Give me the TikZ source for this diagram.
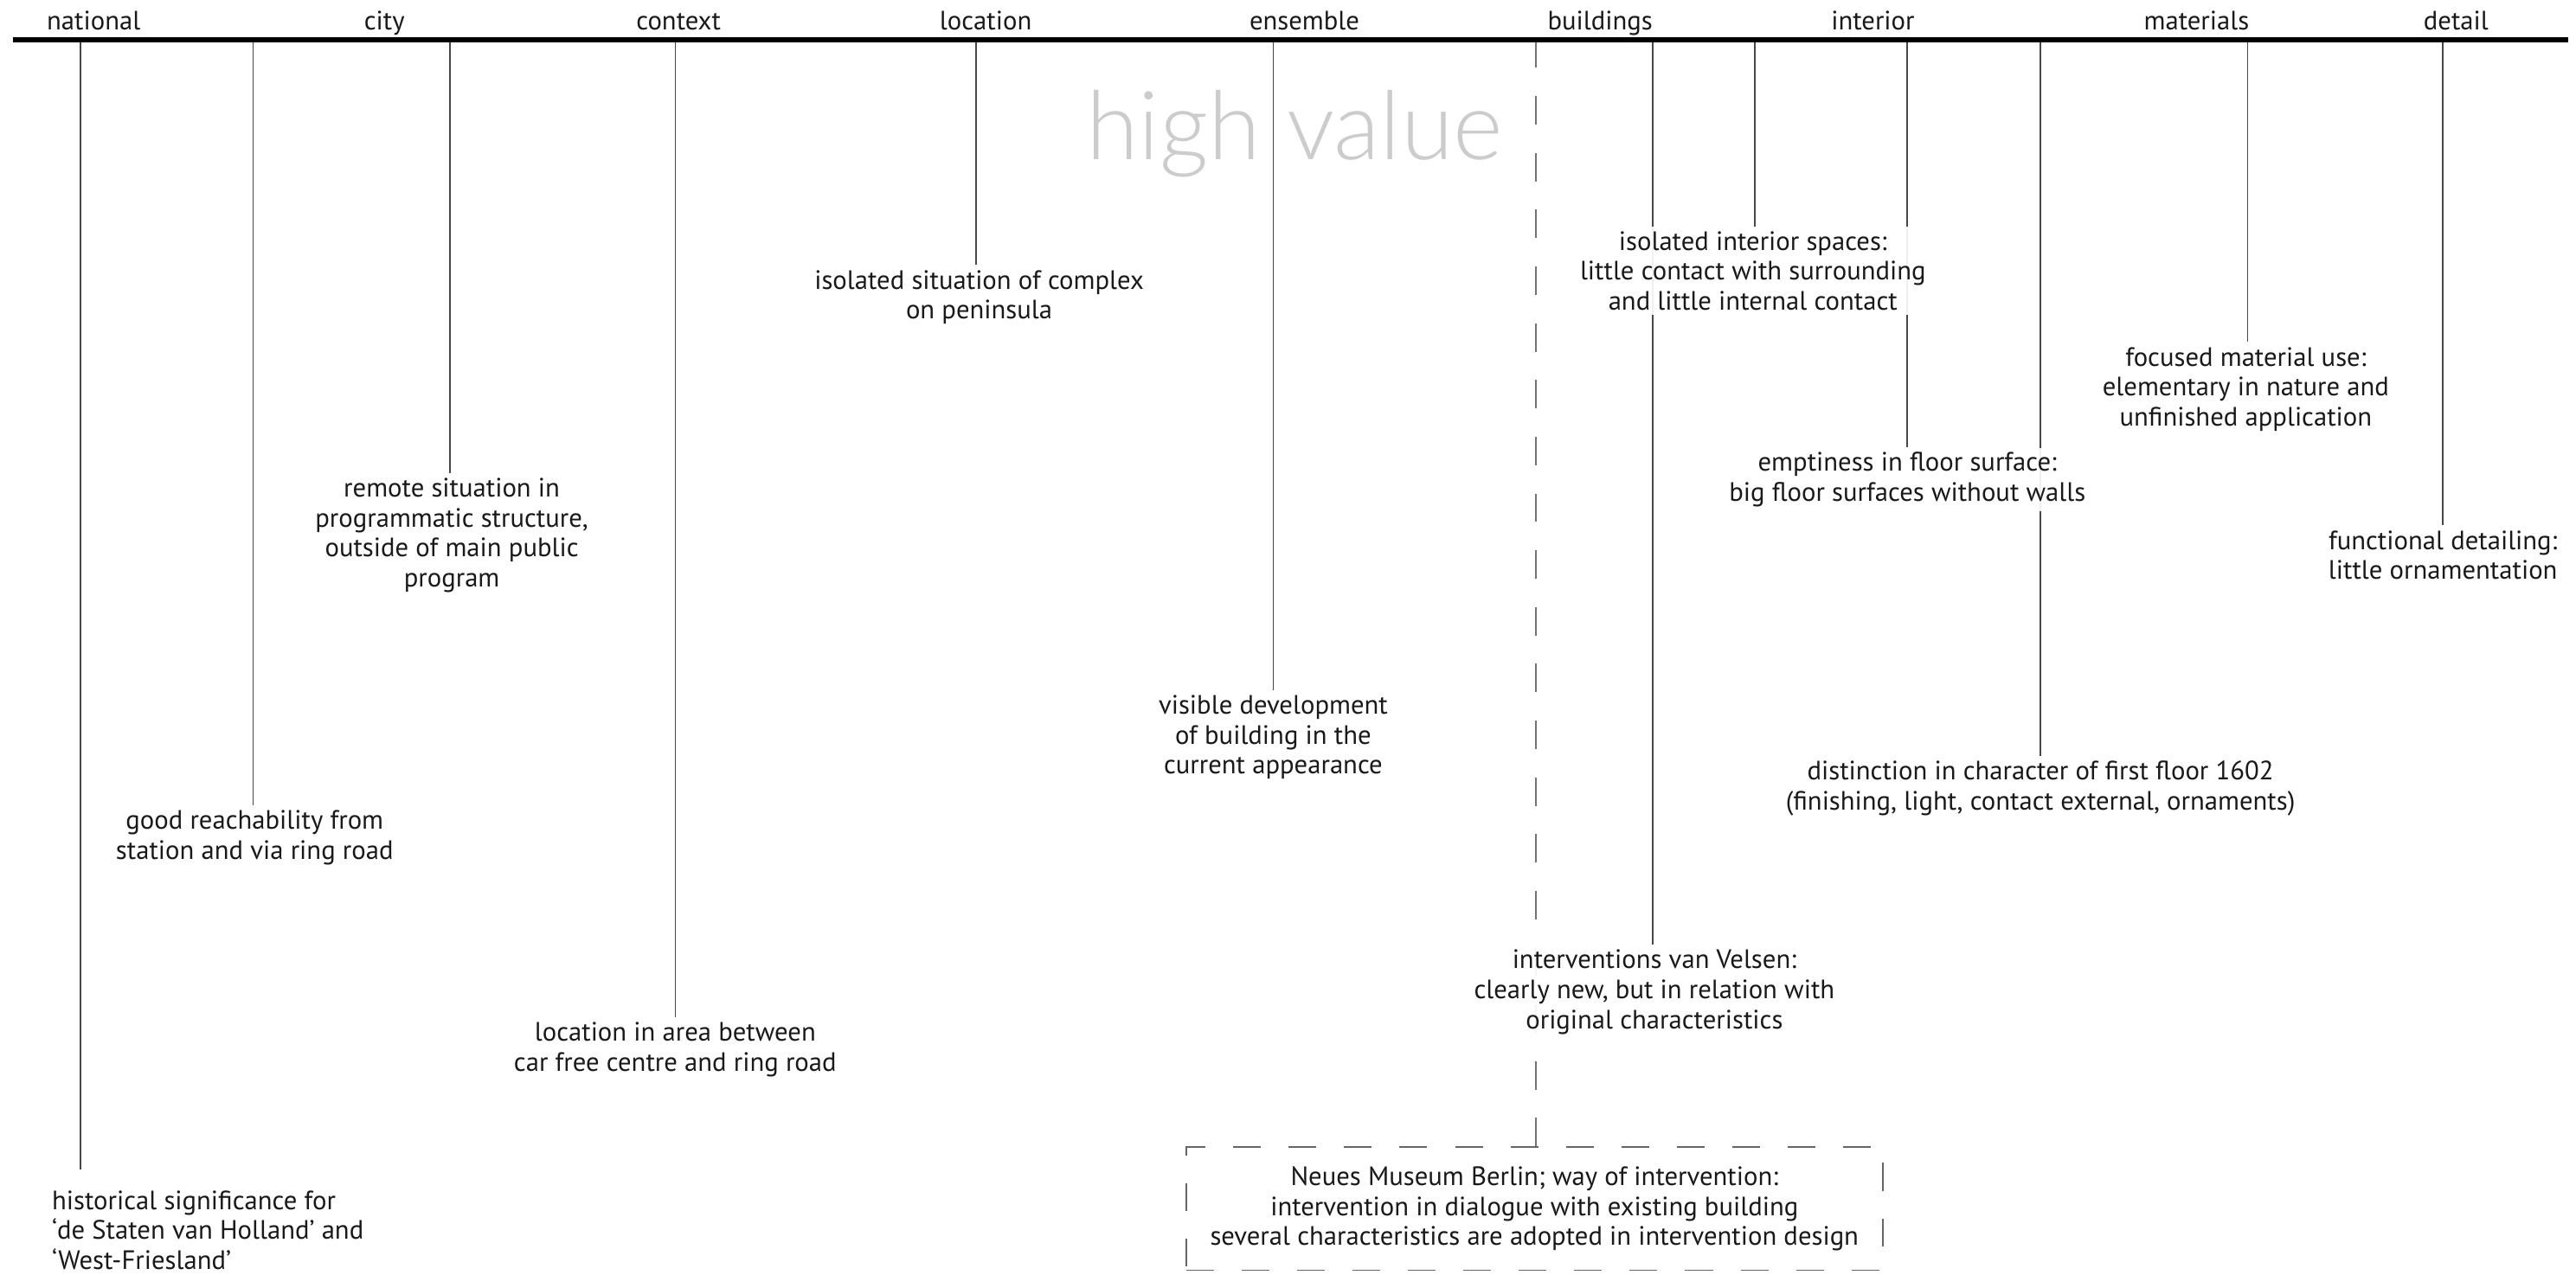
\documentclass[tikz,border=0pt]{standalone}
\usepackage{fontspec}
\setmainfont{PT Sans}
\newfontfamily\thinfont{Lato Light}
\usetikzlibrary{backgrounds}
\begin{document}
\begin{tikzpicture}[x=0.025cm, y=-0.025cm,
  header/.style={anchor=base, font=\fontsize{11.5}{14}\selectfont, text=black!90, inner sep=0pt},
  label/.style={align=center, font=\fontsize{11.5}{13}\selectfont, text=black!90, fill=white, fill opacity=0.92, text opacity=1, inner xsep=1pt, inner ysep=2pt},
  stem/.style={draw=black!72, line width=0.6pt},
  dstem/.style={draw=black!55, line width=0.6pt, dash pattern=on 12.3pt off 12.28pt},
  topline/.style={draw=black, line width=2.2pt}
]
\useasboundingbox (0,0) rectangle (1568,776);

% headers
\node[header] (hnat) at (57,18) {national};
\node[header] (hcity) at (234,18) {city};
\node[header] (hctx) at (413,18) {context};
\node[header] (hloc) at (600,18) {location};
\node[header] (hens) at (794,18) {ensemble};
\node[header] (hbld) at (974,18) {buildings};
\node[header] (hint) at (1140,18) {interior};
\node[header] (hmat) at (1337,18) {materials};
\node[header] (hdet) at (1495,18) {detail};

% top line
\coordinate (L) at (8,24);
\coordinate (R) at (1563,24);
\draw[topline] (L) -- (R);

% high value
\node[anchor=base, font=\thinfont\fontsize{41.3}{41}\selectfont, text=black!20, inner sep=0pt] (hv) at (788,97) {high value};

% top coordinates of stems
\coordinate (t1) at (49,24);
\coordinate (t2) at (154,24);
\coordinate (t3) at (274,24);
\coordinate (t4) at (411,24);
\coordinate (t5) at (594,24);
\coordinate (t6) at (775,24);
\coordinate (t7) at (935,24);
\coordinate (t8) at (1006,24);
\coordinate (t9) at (1068,24);
\coordinate (t10) at (1161,24);
\coordinate (t11) at (1242,24);
\coordinate (t12) at (1368,24);
\coordinate (t13) at (1487,24);
\coordinate (e1) at (49,712);

% labels
\path
  node[label, align=left, anchor=west] (n1) at (30,749) {historical significance for\\‘de Staten van Holland’ and\\‘West-Friesland’}
  node[label] (n2) at (155,510) {good reachability from\\station and via ring road}
  node[label] (n3) at (275,326) {remote situation in\\programmatic structure,\\outside of main public\\program}
  node[label] (n4) at (411,639) {location in area between\\car free centre and ring road}
  node[label] (n5) at (596,181) {isolated situation of complex\\on peninsula}
  node[label] (n6) at (775,449) {visible development\\of building in the\\current appearance}
  node[label] (n7) at (1007,604) {interventions van Velsen:\\clearly new, but in relation with\\original characteristics}
  node[label] (n8) at (1067,165) {isolated interior spaces:\\little contact with surrounding\\and little internal contact}
  node[label] (n9) at (1161,292) {emptiness in floor surface:\\big floor surfaces without walls}
  node[label] (n10) at (1242,480) {distinction in character of first floor 1602\\(finishing, light, contact external, ornaments)}
  node[label] (n11) at (1367,237) {focused material use:\\elementary in nature and\\unfinished application}
  node[label] (n12) at (1487,338) {functional detailing:\\little ornamentation};

\node[label, draw=black!60, line width=0.6pt, dash pattern=on 12pt off 12pt, fill opacity=1, minimum width=424*0.025cm, minimum height=75*0.025cm] (box) at (934,736)
  {Neues Museum Berlin; way of intervention:\\intervention in dialogue with existing building\\several characteristics are adopted in intervention design};

% stems (behind the labels)
\begin{scope}[on background layer]
  \draw[stem] (t1) -- (e1);
  \draw[stem] (t2) -- (t2 |- n2.north);
  \draw[stem] (t3) -- (t3 |- n3.north);
  \draw[stem] (t4) -- (t4 |- n4.north);
  \draw[stem] (t5) -- (t5 |- n5.north);
  \draw[stem] (t6) -- (t6 |- n6.north);
  \draw[dstem] (t7) -- (t7 |- box.north);
  \draw[stem] (t8) -- (t8 |- n7.north);
  \draw[stem] (t9) -- (t9 |- n8.north);
  \draw[stem] (t10) -- (t10 |- n9.north);
  \draw[stem] (t11) -- (t11 |- n10.north);
  \draw[stem] (t12) -- (t12 |- n11.north);
  \draw[stem] (t13) -- (t13 |- n12.north);
\end{scope}
\end{tikzpicture}
\end{document}
